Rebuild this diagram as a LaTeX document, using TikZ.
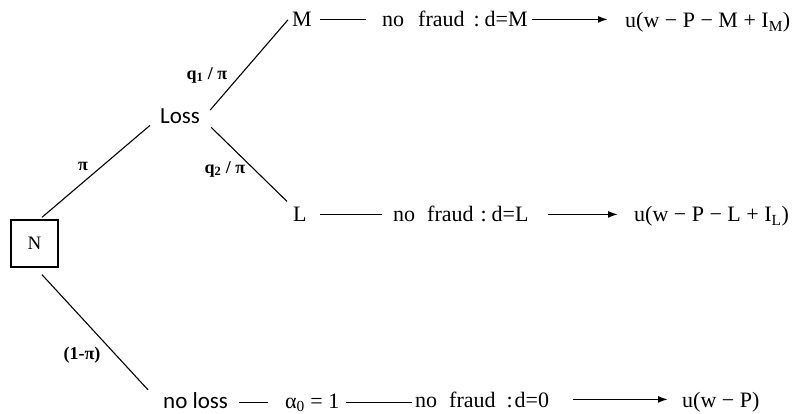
\documentclass[tikz,border=0pt]{standalone}
\usepackage{fontspec}
\setmainfont{Liberation Serif}
\newfontfamily\lossfont{Carlito}
\usetikzlibrary{arrows.meta}
\newcommand{\rowfont}{\fontsize{22}{26}\selectfont}
\newcommand{\probfont}{\fontsize{18}{21}\selectfont\bfseries}
\newcommand{\statefont}{\fontsize{23}{27}\selectfont\lossfont}
\newcommand{\nofraud}[3]{no\hspace{#1}fraud\hspace{#2}:\hspace{#3}}

\begin{document}
\begin{tikzpicture}[x=1pt,y=-1pt,
  txt/.style={inner sep=0pt, anchor=base west, font=\rowfont},
  state/.style={inner sep=0pt, anchor=base west, font=\statefont},
  prob/.style={inner sep=0pt, font=\probfont},
  branch/.style={line width=1.1pt},
  link/.style={line width=1.2pt},
  payoff/.style={line width=1.6pt, -{Latex[length=10pt,width=7pt]}}]
  \useasboundingbox (0,0) rectangle (793,414);
  \node[draw, line width=1.4pt, minimum width=47pt, minimum height=47pt, inner sep=0pt,
        font=\fontsize{19}{21}\selectfont] (nat) at (34.5,243.5) {N};
  \node[state] (loss) at (160,124) {Loss};
  \node[state] (noloss) at (163,408) {no loss};

  \node[txt] (mm) at (292,27) {M};
  \node[txt] (fm) at (382,27) {\nofraud{14pt}{9pt}{5pt}d=M};
  \node[txt] (um) at (625,28) {u(w − P − M + I\textsubscript{M})};

  \node[txt] (ll) at (293,222) {L};
  \node[txt] (fl) at (393,222) {\nofraud{12pt}{7pt}{5pt}d=L};
  \node[txt] (ul) at (634,222) {u(w − P − L + I\textsubscript{L})};

  \node[txt] (alpha) at (285,408) {α\textsubscript{0} = 1};
  \node[txt] (f0) at (415,407) {\nofraud{12pt}{11pt}{2pt}d=0};
  \node[txt] (u0) at (682,407) {u(w − P)};

  \node[prob] (pl) at (83,166) {π};
  \node[prob] (q1) at (207,75) {q\textsubscript{1} / π};
  \node[prob] (q2) at (225,169) {q\textsubscript{2} / π};
  \node[prob] (pn) at (82,355) {(1-π)};

  \draw[branch] ([shift={(7.5pt,2pt)}]nat.north) -- ([shift={(-10pt,-1pt)}]loss.south west);
  \draw[branch] ([shift={(7.5pt,-7pt)}]nat.south) -- ([shift={(-15pt,2pt)}]noloss.north west);
  \draw[branch] ([shift={(10pt,-1pt)}]loss.north east) -- ([xshift=-4pt]mm.west);
  \draw[branch] ([shift={(11pt,-3pt)}]loss.south east) -- ([shift={(-6pt,6pt)}]ll.north west);

  \draw[link, shorten <=8pt, shorten >=16pt] (mm.east) -- (mm.east -| fm.west);
  \draw[payoff, shorten <=4pt, shorten >=17pt] (fm.east) -- (fm.east -| um.west);
  \draw[link, shorten <=13pt, shorten >=11pt] (ll.east) -- (ll.east -| fl.west);
  \draw[payoff, shorten <=19pt, shorten >=16pt] (fl.east) -- (fl.east -| ul.west);
  \draw[link, shorten <=11pt, shorten >=17pt] (alpha.west -| noloss.east) -- (alpha.west);
  \draw[link, shorten <=6pt, shorten >=3pt] (alpha.east) -- (alpha.east -| f0.west);
  \draw[payoff, shorten <=24pt, shorten >=14pt] (f0.east) -- (f0.east -| u0.west);
\end{tikzpicture}
\end{document}
